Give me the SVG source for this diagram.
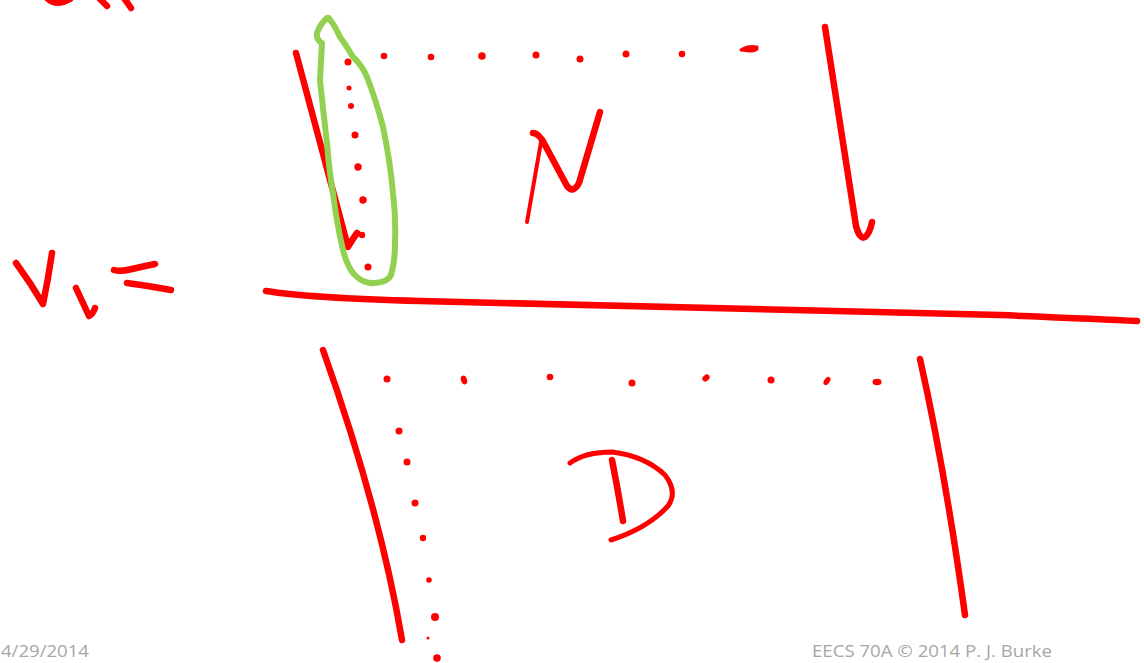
<svg xmlns="http://www.w3.org/2000/svg" width="1144" height="663" viewBox="0 0 1144 663">
<style>
.ink{fill:none;stroke:#ff0000;stroke-linecap:round;stroke-linejoin:round}
.w6{stroke-width:6.5}
.w5{stroke-width:5}
.w4{stroke-width:4}
.dot{fill:#ff0000}
.hl{fill:none;stroke:#92d050;stroke-width:6;stroke-linejoin:round}
.foot{font-family:"Open Sans","Liberation Sans",sans-serif;font-size:17px;fill:#a6a6a6}
</style>
<rect width="1144" height="663" fill="#ffffff"/>
<g id="top-cut">
<path class="ink w6" d="M47,-2 Q56,7 70,-1"/>
<path class="ink w6" d="M99,-2 L107,6"/>
<path class="ink w6" d="M124,-2 L131,8"/>
</g>
<g id="v1-label">
<path class="ink w6" d="M16,263 Q30,282 43,304 Q48,280 52,253"/>
<path class="ink w6" d="M76,288 Q83,303 89,316 Q93,314 95,308"/>
<path class="ink w6" d="M114,270 Q120,272 132,269 Q145,266 155,264"/>
<path class="ink w6" d="M127,283 Q150,286 171,290"/>
</g>
<g id="divider">
<path class="ink w6" d="M266,291 Q310,298 420,301 L1000,315 Q1100,319 1137,321"/>
</g>
<g id="region-N">
<path class="ink w6" d="M296,53 Q322,150 348,247 Q352,240 357,233"/>
<path class="ink w6" d="M825,27 L856,226 Q860,240 865,237 Q870,233 872,222"/>
<g class="dot">
<circle cx="348" cy="62" r="3.5"/>
<circle cx="384" cy="56" r="3.3"/>
<circle cx="431" cy="57" r="3.3"/>
<circle cx="482" cy="56" r="3.8"/>
<circle cx="536" cy="55" r="3.5"/>
<circle cx="580" cy="59" r="3.5"/>
<circle cx="626" cy="54" r="3.5"/>
<circle cx="682" cy="54" r="3.3"/>
<path d="M741,50 Q748,45 757,47 Q758,51 750,51 Z" stroke="#ff0000" stroke-width="3" stroke-linejoin="round"/>
<circle cx="349" cy="88" r="2.5"/>
<circle cx="351" cy="106" r="3"/>
<circle cx="355" cy="135" r="3.5"/>
<circle cx="358" cy="167" r="3.7"/>
<circle cx="363" cy="200" r="3.7"/>
<circle cx="362" cy="235" r="3.2"/>
<circle cx="368" cy="267" r="3.5"/>
</g>
<path class="ink w6" d="M533,133 Q539,133 545,145 L567,186 Q573,194 579,183 L600,112"/>
<path class="ink w4" d="M541,142 L527,222"/>
</g>
<g id="highlight">
<path class="hl" d="M327,18 Q320,24 317,33 Q316,40 322,43 Q321,60 320,80 Q323,110 327,143 Q329,170 333,193 Q337,225 343,250 Q348,270 357,277 Q365,284 375,283 Q388,282 391,275 Q395,262 395,243 Q396,218 393,193 Q390,160 383,127 Q376,100 367,77 Q362,65 353,57 Q346,45 340,37 Q334,24 330,20 Q329,17 327,18 Z"/>
</g>
<g id="region-D">
<path class="ink w6" d="M323,350 Q380,510 402,640"/>
<path class="ink w6" d="M920,359 Q945,470 965,615"/>
<g class="dot">
<circle cx="387" cy="379" r="3.5"/>
<ellipse cx="464" cy="380" rx="3" ry="4.5" transform="rotate(-20 464 380)"/>
<circle cx="550" cy="377" r="3.3"/>
<circle cx="632" cy="383" r="3.5"/>
<ellipse cx="706" cy="378" rx="4" ry="3" transform="rotate(-40 706 378)"/>
<circle cx="771" cy="380" r="3.5"/>
<ellipse cx="827" cy="381" rx="4.5" ry="2.8" transform="rotate(-55 827 381)"/>
<ellipse cx="877" cy="382" rx="4.5" ry="3.2"/>
<circle cx="399" cy="431" r="3.5"/>
<circle cx="407" cy="462" r="3.5"/>
<circle cx="415" cy="503" r="3.5"/>
<circle cx="423" cy="538" r="3.2"/>
<circle cx="429" cy="580" r="2.8"/>
<circle cx="435" cy="617" r="4"/>
<circle cx="428" cy="638" r="1.5"/>
<circle cx="437" cy="658" r="3.8"/>
</g>
<path class="ink w5" d="M570,463 Q585,452 612,452 Q645,456 665,475 Q678,492 668,506 Q648,528 611,540"/>
<path class="ink w6" d="M612,460 Q618,490 623,521"/>
</g>
<g id="footer">
<text class="foot" x="1" y="657" textLength="88" lengthAdjust="spacingAndGlyphs">4/29/2014</text>
<text class="foot" x="812" y="657" textLength="240" lengthAdjust="spacingAndGlyphs">EECS 70A © 2014 P. J. Burke</text>
</g>
</svg>
